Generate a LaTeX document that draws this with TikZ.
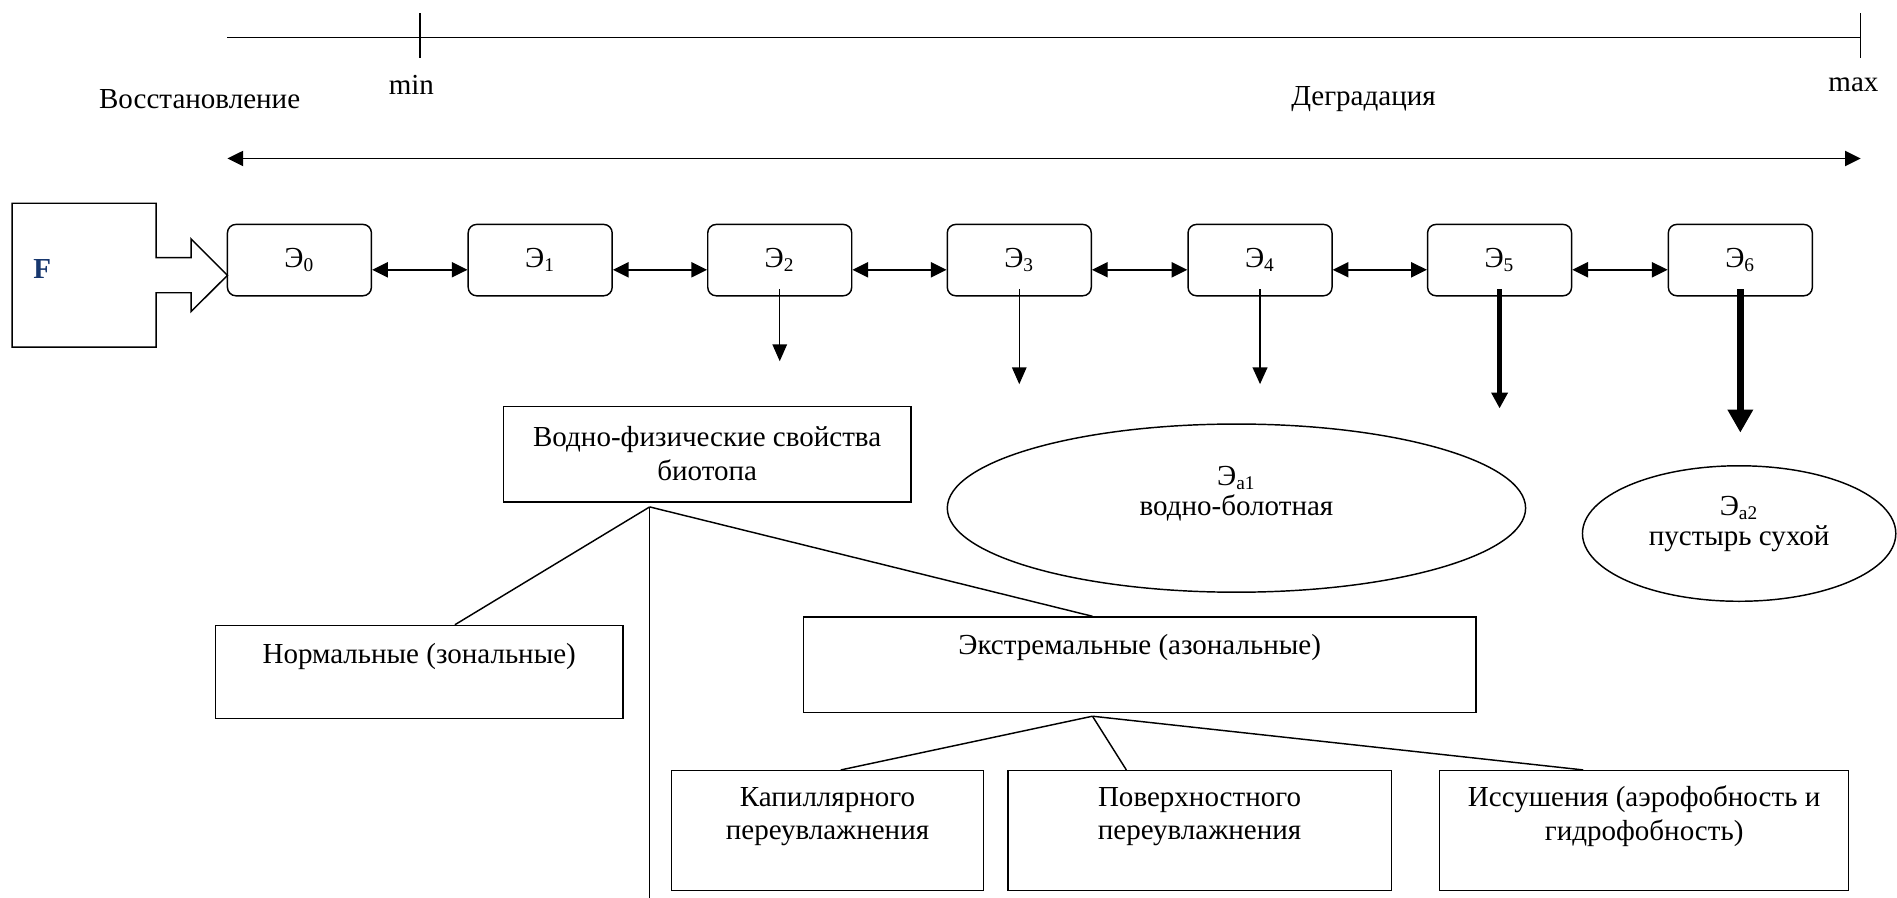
\documentclass[tikz,border=0pt]{standalone}
\usepackage{fontspec}
\setmainfont{Liberation Serif}
\usetikzlibrary{arrows.meta,shapes.geometric,fit}
\definecolor{fblue}{RGB}{23,55,110}
\begin{document}
\begin{tikzpicture}[x=0.5pt,y=-0.5pt,
  font=\fontsize{12}{14}\selectfont, line width=0.6pt,
  ebox/.style={draw, rounded corners=3.5pt, minimum width=59.5pt, minimum height=29.5pt, inner sep=0pt},
  rbox/.style={draw, inner sep=0pt},
  txt/.style={inner sep=0pt, align=center},
  dbl/.style={{Triangle[length=6.5pt,width=6.3pt]}-{Triangle[length=6.5pt,width=6.3pt]}},
  downarr/.style={-{Triangle[length=7pt,width=6pt]}}
]
\useasboundingbox (0,0) rectangle (1568,742);

% top scale
\coordinate (tl) at (188,31);
\coordinate (tr) at (1538,31);
\draw (tl) -- (tr);
\draw (347,11) -- (347,48);
\draw (1538,11) -- (1538,48);
\node[txt] (minl) at (340,70) {min};
\node[txt] (maxl) at (1532,70) {max};
\node[txt] (vos) at (165,82) {Восстановление};
\node[txt] (deg) at (1127,82) {Деградация};
\coordinate (la) at (188,131);
\coordinate (ra) at (1538,131);
\draw[dbl] (la) -- (ra);

% F block arrow
\draw (10,168) -- (129,168) -- (129,213) -- (158,213) -- (158,197.5) -- (188,227.6)
  -- (158,257.5) -- (158,242) -- (129,242) -- (129,287) -- (10,287) -- cycle;
\node[font=\bfseries\fontsize{12}{14}\selectfont, text=fblue, anchor=west, inner sep=0pt] (F) at (27,222) {F};

% E boxes
\foreach \i/\x in {0/247.5,1/446.5,2/644.5,3/842.5,4/1041.5,5/1239.5,6/1438.5}
  \node[ebox] (e\i) at (\x,215) {Э\textsubscript{\i}};
\foreach \i/\j in {0/1,1/2,2/3,3/4,4/5,5/6}
  \draw[dbl] ([yshift=-4pt]e\i.east) -- ([yshift=-4pt]e\j.west);

% down arrows
\draw[downarr, line width=0.6pt] ([yshift=3pt]e2.south) -- ++(0,59.5) coordinate (d2);
\draw[downarr, line width=0.6pt] ([yshift=3pt]e3.south) -- ++(0,78.5) coordinate (d3);
\draw[-{Triangle[length=7pt,width=6pt]}, line width=1.1pt] ([yshift=3pt]e4.south) -- ++(0,78.5) coordinate (d4);
\draw[-{Triangle[length=6.5pt,width=6.5pt]}, line width=1.8pt] ([yshift=3pt]e5.south) -- ++(0,98.5) coordinate (d5);
\draw[-{Triangle[length=9.5pt,width=10pt]}, line width=3pt] ([yshift=3pt]e6.south) -- ++(0,118.5) coordinate (d6);

% ellipses
\node[draw, ellipse, minimum width=239pt, minimum height=69.5pt, inner sep=0pt] (ea1) at (1022,420) {};
\node[txt, font=\fontsize{12}{12.5}\selectfont] (ea1t) at (1022,408) {Э\textsubscript{a1}\\водно-болотная};
\node[draw, ellipse, minimum width=129.5pt, minimum height=56pt, inner sep=0pt] (ea2) at (1437.5,441) {};
\node[txt, font=\fontsize{12}{12.5}\selectfont] (ea2t) at (1437.5,433) {Э\textsubscript{a2}\\пустырь сухой};

% tree
\node[rbox, fit={(416,336) (753,415)}] (vod) {};
\node[txt] (vodt) at (584.5,375) {Водно-физические свойства\\биотопа};
\node[rbox, fit={(178,517) (515,594)}] (norm) {};
\node[txt] (normt) at (346.5,543) {Нормальные (зональные)};
\node[rbox, fit={(664,510) (1220,589)}] (ext) {};
\node[txt] (extt) at (942,535) {Экстремальные (азональные)};
\node[rbox, fit={(555,637) (813,736)}] (kap) {};
\node[txt] (kapt) at (684,675) {Капиллярного\\переувлажнения};
\node[rbox, fit={(833,637) (1150,736)}] (pov) {};
\node[txt] (povt) at (991.5,675) {Поверхностного\\переувлажнения};
\node[rbox, fit={(1190,637) (1528,736)}] (iss) {};
\node[txt] (isst) at (1359,675) {Иссушения (аэрофобность и\\гидрофобность)};

\coordinate (b1) at (537,419);
\coordinate (vend) at (537,742);
\draw (b1) -- ([xshift=14.75pt]norm.north);
\draw (b1) -- (vend);
\draw (b1) -- ([xshift=-19.5pt]ext.north);
\coordinate (b2) at (903,592);
\draw (b2) -- ([xshift=5.5pt]kap.north);
\draw (b2) -- ([xshift=-30.25pt]pov.north);
\draw (b2) -- ([xshift=-25.2pt]iss.north);
\end{tikzpicture}
\end{document}
